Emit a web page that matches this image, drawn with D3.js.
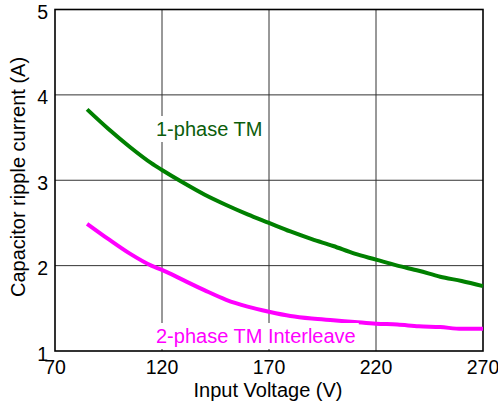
<!DOCTYPE html>
<html>
<head>
<meta charset="utf-8">
<script src="https://cdn.jsdelivr.net/npm/d3@7"></script>
<style>
  body { margin: 0; background: #fff; }
  text { font-family: "Liberation Sans", Arial, Helvetica, sans-serif; }
</style>
</head>
<body>
<script>
// input voltage (V)
const voltage = [85, 95, 105, 115, 120, 130, 140, 150, 160, 170, 180, 190, 200, 210, 220, 230, 240, 250, 260, 270];
// ripple current (A)
const onePhase = [3.83, 3.60, 3.39, 3.20, 3.12, 2.97, 2.83, 2.71, 2.60, 2.50, 2.40, 2.31, 2.23, 2.14, 2.07, 2.00, 1.94, 1.87, 1.82, 1.76];
const twoPhase = [2.49, 2.31, 2.14, 2.00, 1.95, 1.83, 1.71, 1.60, 1.52, 1.46, 1.41, 1.38, 1.36, 1.34, 1.32, 1.31, 1.29, 1.28, 1.26, 1.26];
const xTicks = [70, 120, 170, 220, 270];
const yTicks = [1, 2, 3, 4, 5];

const width = 498, height = 402;
const margin = {left: 55, top: 9.5, right: 15, bottom: 51};
const w = width - margin.left - margin.right;
const h = height - margin.top - margin.bottom;

const svg = d3.select('body').append('svg')
    .attr('width', width)
    .attr('height', height);

const g = svg.append('g')
    .attr('transform', `translate(${margin.left}, ${margin.top})`);

const x = d3.scaleLinear().domain([70, 270]).range([0, w]);
const y = d3.scaleLinear().domain([1, 5]).range([h, 0]);

// grid
g.selectAll('.vgrid')
    .data(xTicks.slice(1, -1))
    .enter().append('line')
    .attr('x1', d => x(d)).attr('x2', d => x(d))
    .attr('y1', 0).attr('y2', h)
    .attr('stroke', '#333').attr('stroke-width', 1);

g.selectAll('.hgrid')
    .data(yTicks.slice(1, -1))
    .enter().append('line')
    .attr('x1', 0).attr('x2', w)
    .attr('y1', d => y(d)).attr('y2', d => y(d))
    .attr('stroke', '#333').attr('stroke-width', 1);

// frame
g.append('rect')
    .attr('width', w).attr('height', h)
    .attr('fill', 'none')
    .attr('stroke', '#000')
    .attr('stroke-width', 1.6);

// tick labels
g.selectAll('.xlab')
    .data(xTicks)
    .enter().append('text')
    .attr('x', d => x(d))
    .attr('y', h + 23)
    .attr('text-anchor', 'middle')
    .attr('font-size', 19.5)
    .text(d => d);

g.selectAll('.ylab')
    .data(yTicks)
    .enter().append('text')
    .attr('x', -7)
    .attr('y', d => y(d) + 9.5)
    .attr('text-anchor', 'end')
    .attr('font-size', 19.5)
    .text(d => d);

// axis titles
svg.append('text')
    .attr('x', 268)
    .attr('y', 397)
    .attr('text-anchor', 'middle')
    .attr('font-size', 20)
    .text('Input Voltage (V)');

svg.append('text')
    .attr('transform', 'translate(25, 177) rotate(-90)')
    .attr('text-anchor', 'middle')
    .attr('font-size', 20)
    .text('Capacitor ripple current (A)');

// curves
const line = d3.line()
    .x((d, i) => x(voltage[i]))
    .y(d => y(d))
    .curve(d3.curveMonotoneX);

g.append('path')
    .datum(onePhase)
    .attr('d', line)
    .attr('fill', 'none')
    .attr('stroke', '#008000')
    .attr('stroke-width', 4)
    .attr('stroke-linejoin', 'round');

g.append('path')
    .datum(twoPhase)
    .attr('d', line)
    .attr('fill', 'none')
    .attr('stroke', '#ff00ff')
    .attr('stroke-width', 4)
    .attr('stroke-linejoin', 'round');

// labels with white backing
function label(txt, tx, ty, color) {
    const t = svg.append('text')
        .attr('x', tx).attr('y', ty)
        .attr('font-size', 20)
        .attr('fill', color)
        .text(txt);
    const bb = t.node().getBBox();
    svg.insert('rect', () => t.node())
        .attr('x', bb.x - 3).attr('y', bb.y - 2)
        .attr('width', bb.width + 6).attr('height', bb.height + 4)
        .attr('fill', '#fff');
}
label('1-phase TM', 156, 136, '#0b5d0b');
label('2-phase TM Interleave', 156, 343, '#ff00ff');
</script>
</body>
</html>
